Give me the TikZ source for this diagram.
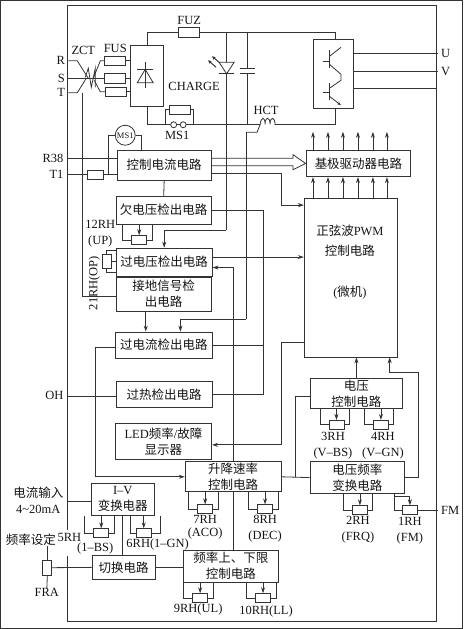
\documentclass[tikz,border=0pt]{standalone}
\usepackage{fontspec}
\setmainfont{Liberation Serif}
\newfontfamily\cjk{Noto Sans CJK SC}
\usepackage{xcolor}
\usepackage{tikz}
\usetikzlibrary{arrows.meta}
\definecolor{ink}{gray}{0.2}
\definecolor{type}{gray}{0.08}
\newcommand{\zh}[1]{{\cjk #1}}
\newcommand{\trimpot}[5][8.5]{%
\node[potbox] (#2) at (#3,#4) {};
\draw (#2.west) -- ++(-#1,0) coordinate (#2l) -- (#2l |- #5.south);
\draw (#2.east) -- ++({13.5-#1},0) coordinate (#2r) -- (#2r |- #5.south);
\draw[->] (#2.north |- #5.south) -- (#2.north);}

\begin{document}
\begin{tikzpicture}[x=1pt,y=-1pt, every path/.style={draw=ink,line width=0.8pt}, >={Stealth[length=6pt,width=4pt]},
 lbl/.style={inner sep=0pt,align=center,text=type,font=\fontsize{12.5}{16}\selectfont},
 tag/.style={lbl,anchor=east,inner sep=3pt},
 box/.style 2 args={draw=ink,inner sep=0pt,align=center,text=type,font=\fontsize{12.5}{16}\selectfont,minimum width=#1pt,minimum height=#2pt},
 potbox/.style={draw=ink,inner sep=0pt,minimum width=15pt,minimum height=9pt},
 fuse/.style={draw=ink,inner sep=0pt,minimum width=21pt,minimum height=9.5pt}]
\useasboundingbox (0,0) rectangle (463,629);
\draw (67,530) -- (67,5) -- (437,5) -- (437,622) -- (67,622) -- (67,556);

\node[box={33.5}{61}] (rect) at (146.75,75.5) {};
\node[box={40}{69}] (inv) at (333,73.5) {};
\node[box={94}{30}] (ctrl) at (164,165) {\zh{控制电流电路}};
\node[box={95}{28}] (under) at (163.5,210) {\zh{欠电压检出电路}};
\node[box={96}{28}] (over) at (164,262) {\zh{过电压检出电路}};
\node[box={95}{34}] (gnd) at (163.5,294) {\zh{接地信号检}\\\zh{出电路}};
\node[box={96.5}{26}] (ocur) at (163.75,345) {\zh{过电流检出电路}};
\node[box={96}{27}] (heat) at (164,394.5) {\zh{过热检出电路}};
\node[box={96.5}{36}] (show) at (163.25,442) {LED\zh{频率}/\zh{故障}\\\zh{显示器}};
\node[box={96}{30}] (slew) at (233,477) {\zh{升降速率}\\\zh{控制电路}};
\node[box={95.7}{31.6}] (freq) at (230.8,566.5) {\zh{频率上、下限}\\\zh{控制电路}};
\node[box={63}{32.4}] (iv) at (122.5,499.5) {I–V\\\zh{变换电器}};
\node[box={63.3}{24}] (sw) at (123.3,567.7) {\zh{切换电路}};
\node[box={92.4}{30.4}] (vcon) at (356.5,393.5) {\zh{电压}\\\zh{控制电路}};
\node[box={95}{32.3}] (vfc) at (357.5,477.8) {\zh{电压频率}\\\zh{变换电路}};
\node[box={93}{159}] (pwm) at (350.8,277.5) {};
\node[box={105}{26.5}] (drv) at (358.5,163.25) {\zh{基极驱动器电路}};
\node[lbl] (pwmtxt) at (350,262) {\zh{正弦波}PWM\\[4pt]\zh{控制电路}\\[26pt](\zh{微机})};

\node[fuse] (fuz) at (188.5,32) {};
\node[fuse] (fusr) at (115,60.5) {};
\node[fuse] (fuss) at (115,78) {};
\node[fuse] (fust) at (116,91.5) {};
\node[fuse] (mcr) at (179.5,109.5) {};
\node[fuse,minimum width=15.5pt] (tfuse) at (95,174.5) {};
\node[draw=ink,circle,inner sep=0pt,minimum size=20pt,text=type,font=\fontsize{8.5}{10}\selectfont] (msc) at (125,135) {MS1};
\node[draw=ink,inner sep=0pt,minimum width=9.5pt,minimum height=14pt] (op) at (106.5,261) {};
\node[draw=ink,inner sep=0pt,minimum width=9pt,minimum height=15pt] (fra) at (47,568) {};
\node[potbox] (fmpot) at (410,510.5) {};

\node[tag] (rr) at (68,60.5) {R};
\node[tag] (ss) at (68,78) {S};
\node[tag] (tt) at (68,92.5) {T};
\node[tag] (rt) at (66.5,158) {R38};
\node[tag] (tone) at (66.5,174.5) {T1};
\node[tag] (oh) at (66.5,396) {OH};
\node[lbl,anchor=west,inner sep=3pt] (uu) at (438,53) {U};
\node[lbl,anchor=west,inner sep=3pt] (vv) at (438,71.5) {V};
\node[lbl,anchor=west,inner sep=3pt] (fm) at (438,510.5) {FM};
\node[lbl] (zct) at (83,50) {ZCT};
\node[lbl] (fus) at (115,48) {FUS};
\node[lbl] (fuzt) at (189,20) {FUZ};
\node[lbl] (chg) at (194,86) {CHARGE};
\node[lbl] (mst) at (177,135) {MS1};
\node[lbl] (hct) at (266,110) {HCT};
\node[lbl] (upt) at (100,234) {12RH\\(UP)};
\node[lbl,rotate=90] (opt) at (94,283) {21RH(OP)};
\node[lbl] (vbst) at (333,446) {3RH\\(V–BS)};
\node[lbl] (vgnt) at (383,446) {4RH\\(V–GN)};
\node[lbl] (acot) at (205,527.5) {7RH\\[-3pt](ACO)};
\node[lbl] (dect) at (265,529) {8RH\\(DEC)};
\node[lbl] (frqt) at (358,530) {2RH\\(FRQ)};
\node[lbl] (fmt) at (410,531) {1RH\\(FM)};
\node[lbl] (ult) at (198,609.5) {9RH(UL)};
\node[lbl] (llt) at (266,612) {10RH(LL)};
\node[lbl] (bst) at (69,538) {5RH};
\node[lbl] (bsu) at (95,549) {(1–BS)};
\node[lbl] (gnt) at (157.5,544.5) {6RH(1–GN)};
\node[lbl] (iin) at (38,501) {\zh{电流输入}\\4\textasciitilde20mA};
\node[lbl] (fset) at (30.5,540.5) {\zh{频率设定}};
\node[lbl] (frat) at (46.5,593) {FRA};

\coordinate (dcp) at (226,32); \coordinate (dcn) at (146.75,124.5);
\coordinate (hcta) at (260,124.5); \coordinate (hctb) at (275,124.5);
\coordinate (hctw) at (246,132); \coordinate (ocin) at (246,319);
\coordinate (ledin) at (226,62); \coordinate (ledout) at (226,73.5); \coordinate (ledrun) at (226,230);
\coordinate (capa) at (247,68); \coordinate (capb) at (247,73.5);
\coordinate (busr) at (263,300); \coordinate (ztap) at (82,92.5);
\coordinate (pwmrun) at (281,342); \coordinate (rampin) at (295,477); \coordinate (fbk) at (419,372);
\coordinate (mcl) at (165,124.5); \coordinate (mcrr) at (193,124.5);
\coordinate (msl) at (108,135); \coordinate (msr) at (141.5,135);

\draw (rr.east) -- (77,60.5) -- (88,78); \draw (93,78) -- (100,60.5) -- (fusr.west);
\draw (tt.east) -- (77,92.5) -- (86,78); \draw (94,80) -- (100,91.5) -- (fust.west);
\draw (ss.east) -- (fuss.west);
\draw (85,77) -- (88,68) -- (91,87) -- (95,68) -- (95,87);
\draw (fusr.east) -- (rect.west |- fusr); \draw (fuss.east) -- (rect.west |- fuss); \draw (fust.east) -- (rect.west |- fust);
\draw (137,69) -- (153,69); \draw (145,62) -- (145,88); \draw (145,69) -- (137,82.5) -- (153,82.5) -- cycle;

\draw (rect.north) |- (fuz.west); \draw (fuz.east) -| ([xshift=2pt]inv.north);
\draw (rect.south) -- (dcn) -- (hcta);
\draw (hcta) .. controls (261,116) and (265,116) .. (265,124) .. controls (265,116) and (270,116) .. (270,124) .. controls (270,116) and (275,116) .. (hctb);
\draw (hctb) -| ([xshift=2pt]inv.south);
\draw (hctw) -- (257,132) -- (hcta);
\draw (mcr.west) -| (mcl); \draw (mcr.east) -| (mcrr);
\node[draw=ink,fill=white,circle,inner sep=0pt,minimum size=6pt] (mca) at (173.5,124.5) {};
\node[draw=ink,fill=white,circle,inner sep=0pt,minimum size=6pt] (mcb) at (183,124.5) {};

\draw (dcp) -- (ledin); \draw (ledout) -- (ledrun);
\draw (219,62) -- (234,62) -- (226.5,73.5) -- cycle; \draw (219,73.5) -- (234,73.5);
\draw[->,line width=1pt,>={Stealth[length=3.5pt,width=3.5pt]}] (216,67) -- (208,60);
\draw[->,line width=1pt,>={Stealth[length=3.5pt,width=3.5pt]}] (219,62) -- (212,56);
\draw (capa |- dcp) -- (capa); \draw (capb) -- (capb |- dcn);
\draw (239.5,68) -- (254.5,68); \draw (239.5,73.5) -- (254.5,73.5);

\draw (inv.east |- uu) -- (uu.west); \draw (inv.east |- vv) -- (vv.west); \draw ([yshift=-14.5pt]inv.east) -- ++(84,0);
\draw (323.5,61) -- (329.5,61); \draw (329.5,50) -- (329.5,68); \draw (329.5,56) -- (341,47);
\draw (329.5,64) -- (341,74) -- (341,80) -- (329.5,88);
\draw (323.5,92) -- (329.5,92); \draw (329.5,83) -- (329.5,100);
\draw[->,>={Stealth[length=4pt,width=3pt]}] (329.5,96) -- (341,105);

\draw (rt.east) -- (ctrl.west |- rt); \draw (tone.east) -- (tfuse.west); \draw (tfuse.east) -- (ctrl.west |- tfuse);
\draw (msc.west) -- (msl) -- (msl |- tfuse); \draw (msc.east) -- (msr) -- (msr |- ctrl.north);
\draw (ztap) |- ([yshift=-2pt]gnd.west);
\draw (ctrl.east |- 0,158) -- (293,158) -- (293,154.5) -- (drv.west) -- (293,169.5) -- (293,165.5) -- (ctrl.east |- 0,165.5);
\draw[->] (ctrl.east |- 0,173.5) -| (281,205) -- (pwm.west |- 0,205);
\foreach \x in {313,328,343,358,373,387} {
\draw[->] (\x,0 |- pwm.north) -- (\x,0 |- drv.south); \draw[->] (\x,0 |- drv.north) -- ++(0,-18);}

\draw (ctrl.south) -- (under.north);
\draw (under.east) -| (busr) |- (heat.east); \draw (ocur.east) -- (ocur.east -| busr);
\draw[->] (ledrun) -| (over.north);
\draw (hctw) -- (ocin); \draw[->] (ocin) -| ([xshift=16.5pt]ocur.north);
\draw[->] ([yshift=5pt]over.east) -- ([yshift=5pt]over.east -| pwm.west);
\draw[->] (slew.north) |- ([yshift=-5.5pt]over.east);
\draw[->] ([xshift=-18pt]gnd.south) -- ([xshift=-18pt]gnd.south |- ocur.north);
\draw[->] ([yshift=-2pt]ocur.west) -- ++(-19.5,0) |- (slew.west);
\draw (oh.east) -- (heat.west |- oh);
\draw[->] (pwm.west |- pwmrun) -- (pwmrun) |- ([yshift=-3pt]show.east);

\draw (over.west |- 0,250) -| (op.north); \draw (over.west |- 0,272) -| (op.south); \draw (over.west |- op) -- (op.east);
\trimpot{up}{139}{240}{under}

\draw (slew.east) -- (vfc.west); \draw ([yshift=-3pt]vcon.west) -| (rampin);
\draw[->,line width=1pt] (vcon.north) -- (vcon.north |- pwm.south);
\draw (vfc.east) -| (fbk); \draw[->] (fbk) -| ([xshift=39pt]pwm.south);
\trimpot{vbs}{336.5}{425}{vcon}
\trimpot{vgn}{381}{425}{vcon}
\trimpot{frq}{360}{510.5}{vfc}
\trimpot{aco}{205}{509.5}{slew}
\trimpot{dec}{265}{509.5}{slew}
\trimpot{ul}{200}{598.5}{freq}
\trimpot{ll}{263}{598.5}{freq}
\trimpot{bs}{101}{533.5}{iv}
\trimpot[5]{gn}{143.5}{533.5}{iv}
\draw (fmpot.east) -- (fm.west);
\draw (fmpot.west) -- ++(-7.5,0) coordinate (fml) -- (fml |- vfc.south);
\draw[->] (fml |- 0,497) -- (fmpot.north |- 0,497) -- (fmpot.north);

\draw (slew.south) -- (slew.south |- freq.north);
\draw (iv.south) -- (iv.south |- sw.north);
\draw (sw.east) -- (freq.west |- sw.east);
\draw (sw.west) -- (fra.east);
\draw (fra.north) -- (fra.north |- fset.south); \draw (fra.south) -- (frat.north);
\draw ([yshift=-2.5pt]iv.west) -- ++(-24,0);
\end{tikzpicture}
\end{document}
